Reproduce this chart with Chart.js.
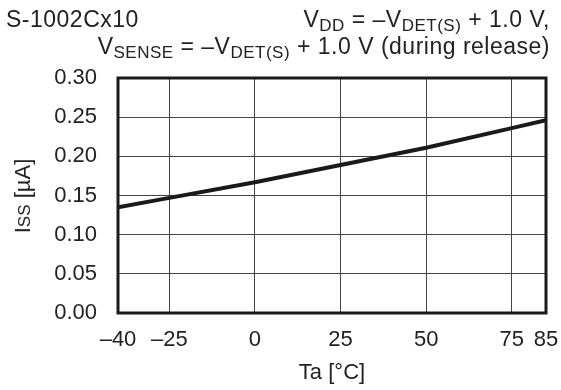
<!DOCTYPE html>
<html>
<head>
<meta charset="utf-8">
<script src="https://cdn.jsdelivr.net/npm/chart.js@4/dist/chart.umd.min.js"></script>
<style>
  html, body { margin: 0; padding: 0; background: #fff; }
  #wrap { width: 561px; height: 390px; }
</style>
</head>
<body>
<div id="wrap"><canvas id="chart" width="561" height="390"></canvas></div>
<script>
(function () {

    "use strict";

    // Datos
    var temps = [-40, -25, 0, 25, 50, 75, 85];
    var issValues = [0.135, 0.147, 0.167, 0.189, 0.211, 0.236, 0.246];
    var xTicks = [-40, -25, 0, 25, 50, 75, 85];
    var yTicks = [0, 0.05, 0.10, 0.15, 0.20, 0.25, 0.30];

    var FONT = "'Liberation Sans', Arial, sans-serif";
    var TEXT = '#222';
    var SIZE = 22;

    /**
     * Dibuja texto con partes en subindice
     */
    function drawRich(ctx, parts, x, y, align, size) {
        var subSize = Math.round(size * 0.75);
        var total = 0;
        ctx.letterSpacing = '0.5px';
        parts.forEach(function (p) {
            ctx.font = (p.sub ? subSize : size) + 'px ' + FONT;
            p.w = ctx.measureText(p.t).width;
            total += p.w;
        });
        var cx = align === 'right' ? x - total : (align === 'center' ? x - total / 2 : x);
        ctx.textAlign = 'left';
        ctx.textBaseline = 'alphabetic';
        parts.forEach(function (p) {
            ctx.font = (p.sub ? subSize : size) + 'px ' + FONT;
            ctx.fillText(p.t, cx, y + (p.sub ? 4 : 0));
            cx += p.w;
        });
        ctx.letterSpacing = '0px';
    }

    var decoPlugin = {
        id: 'deco',
        afterDraw: function (chart) {
            var ctx = chart.ctx;
            var a = chart.chartArea;
            ctx.save();
            // marco grueso
            ctx.strokeStyle = '#1a1a1a';
            ctx.lineWidth = 3;
            ctx.strokeRect(a.left, a.top, a.right - a.left, a.bottom - a.top);

            ctx.fillStyle = TEXT;
            drawRich(ctx, [{ t: 'S-1002Cx10' }], 6, 27, 'left', 23);
            drawRich(ctx, [
                { t: 'V' }, { t: 'DD', sub: true }, { t: ' = \u2013V' }, { t: 'DET(S)', sub: true }, { t: ' + 1.0 V,' }
            ], 550, 27, 'right', 23);
            drawRich(ctx, [
                { t: 'V' }, { t: 'SENSE', sub: true }, { t: ' = \u2013V' }, { t: 'DET(S)', sub: true }, { t: ' + 1.0 V (during release)' }
            ], 550, 54, 'right', 23);

            // titulo eje x
            ctx.font = SIZE + 'px ' + FONT;
            ctx.textAlign = 'center';
            ctx.textBaseline = 'middle';
            ctx.fillText('Ta [\u00B0C]', 332, 373);

            // titulo eje y
            ctx.translate(22, 196);
            ctx.rotate(-Math.PI / 2);
            var parts = [{ t: 'I', s: SIZE }, { t: 'SS', s: 17 }, { t: ' [\u00B5A]', s: SIZE }];
            var total = 0;
            parts.forEach(function (p) {
                ctx.font = p.s + 'px ' + FONT;
                p.w = ctx.measureText(p.t).width;
                total += p.w;
            });
            var cx = -total / 2;
            ctx.textAlign = 'left';
            ctx.textBaseline = 'alphabetic';
            parts.forEach(function (p) {
                ctx.font = p.s + 'px ' + FONT;
                ctx.fillText(p.t, cx, 8);
                cx += p.w;
            });
            ctx.restore();
        }
    };

    var points = temps.map(function (t, i) { return { x: t, y: issValues[i] }; });

    new Chart(document.getElementById('chart'), {
        type: 'line',
        data: {
            datasets: [{
                data: points,
                borderColor: '#1a1a1a',
                borderWidth: 4,
                pointRadius: 0,
                tension: 0,
                fill: false
            }]
        },
        options: {
            responsive: false,
            animation: false,
            layout: { padding: { left: 0, right: 15, top: 78, bottom: 0 } },
            plugins: { legend: { display: false }, tooltip: { enabled: false } },
            scales: {
                x: {
                    type: 'linear',
                    min: -40,
                    max: 85,
                    afterBuildTicks: function (scale) {
                        scale.ticks = xTicks.map(function (v) { return { value: v }; });
                    },
                    afterFit: function (scale) {
                        scale.height = 77;
                        scale.paddingLeft = 0;
                        scale.paddingRight = 0;
                    },
                    grid: { color: '#444', lineWidth: 1, tickLength: 0 },
                    border: { display: false },
                    ticks: {
                        autoSkip: false,
                        maxRotation: 0,
                        padding: 14,
                        color: TEXT,
                        font: { family: FONT, size: SIZE },
                        callback: function (v) { return String(v).replace('-', '\u2013'); }
                    }
                },
                y: {
                    min: 0,
                    max: 0.3,
                    afterBuildTicks: function (scale) {
                        scale.ticks = yTicks.map(function (v) { return { value: v }; });
                    },
                    afterFit: function (scale) {
                        scale.width = 118;
                        scale.paddingTop = 0;
                        scale.paddingBottom = 0;
                    },
                    grid: { color: '#444', lineWidth: 1, tickLength: 0 },
                    border: { display: false },
                    ticks: {
                        padding: 21,
                        color: TEXT,
                        font: { family: FONT, size: SIZE },
                        callback: function (v) { return v.toFixed(2); }
                    }
                }
            }
        },
        plugins: [decoPlugin]
    });

})();
</script>
</body>
</html>
